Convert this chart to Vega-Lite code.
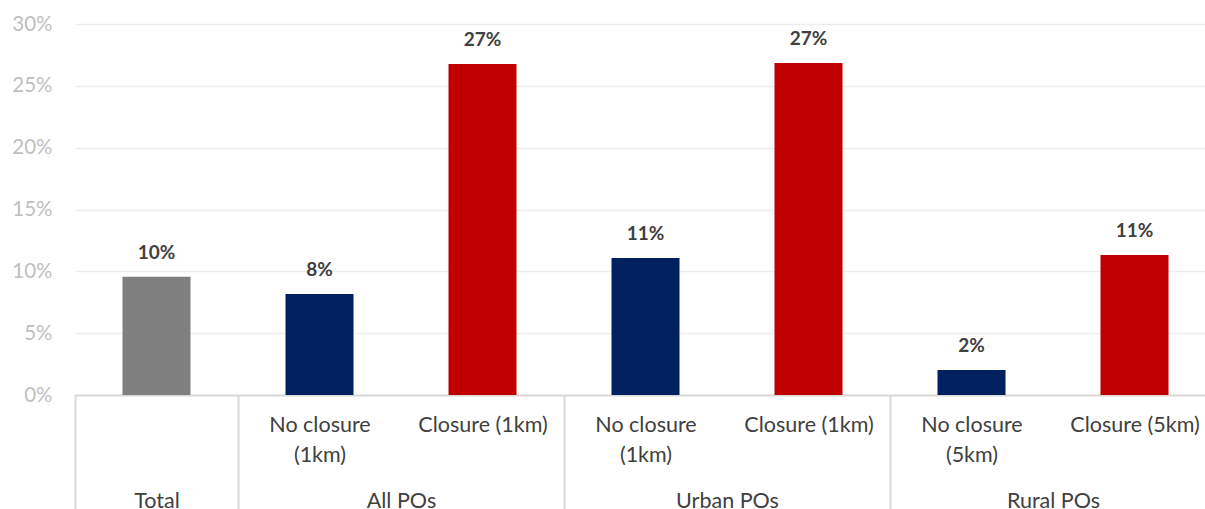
{
  "$schema": "https://vega.github.io/schema/vega-lite/v6.json",
  "width": 1130,
  "height": 371,
  "autosize": "none",
  "padding": {"left": 75, "top": 24, "right": 0, "bottom": 114},
  "background": "#ffffff",
  "config": {
    "view": {"stroke": null},
    "font": "Lato",
    "axis": {"labelFont": "Lato", "titleFont": "Lato"}
  },
  "data": {
    "values": [
      {"idx": 1, "group": "Total", "sub": "", "series": "Total", "value": 0.0957},
      {"idx": 2, "group": "All POs", "sub": "No closure (1km)", "series": "No closure", "value": 0.0817},
      {"idx": 3, "group": "All POs", "sub": "Closure (1km)", "series": "Closure", "value": 0.2677},
      {"idx": 4, "group": "Urban POs", "sub": "No closure (1km)", "series": "No closure", "value": 0.1108},
      {"idx": 5, "group": "Urban POs", "sub": "Closure (1km)", "series": "Closure", "value": 0.2685},
      {"idx": 6, "group": "Rural POs", "sub": "No closure (5km)", "series": "No closure", "value": 0.0202},
      {"idx": 7, "group": "Rural POs", "sub": "Closure (5km)", "series": "Closure", "value": 0.1132}
    ]
  },
  "layer": [
    {
      "mark": {"type": "bar", "width": 68},
      "encoding": {
        "x": {
          "field": "idx", "type": "quantitative",
          "scale": {"domain": [0.5, 7.4325], "nice": false, "zero": false, "padding": 0},
          "axis": {
            "orient": "bottom",
            "title": null,
            "values": [1, 2, 3, 4, 5, 6, 7],
            "labelExpr": "datum.value==1?'':(datum.value==2||datum.value==4)?['No closure','(1km)']:datum.value==6?['No closure','(5km)']:datum.value==7?'Closure (5km)':'Closure (1km)'",
            "ticks": false,
            "grid": false,
            "domain": true,
            "domainColor": "#d9d9d9",
            "domainWidth": 2,
            "labelFontSize": 21.5,
            "labelColor": "#404040",
            "labelBaseline": "top",
            "labelLineHeight": 30,
            "labelPadding": 19,
            "labelFlush": false,
            "labelOverlap": false
          }
        },
        "y": {
          "field": "value", "type": "quantitative",
          "scale": {"domain": [0, 0.3], "nice": false},
          "axis": {
            "title": null,
            "values": [0, 0.05, 0.1, 0.15, 0.2, 0.25, 0.3],
            "format": ".0%",
            "domain": false,
            "ticks": false,
            "grid": true,
            "gridColor": "#ededed",
            "gridWidth": 1.5,
            "labelFontSize": 20.5,
            "labelColor": "#bfbfbf",
            "labelPadding": 23
          }
        },
        "color": {
          "field": "series", "type": "nominal",
          "scale": {"domain": ["Total", "No closure", "Closure"], "range": ["#7f7f7f", "#002060", "#c00000"]},
          "legend": null
        }
      }
    },
    {
      "mark": {"type": "text", "dy": -18, "baseline": "alphabetic", "fontSize": 19, "fontWeight": "bold", "color": "#404040"},
      "encoding": {
        "x": {
          "field": "idx", "type": "quantitative",
          "axis": {
            "orient": "bottom",
            "title": null,
            "values": [1, 2.5, 4.5, 6.5],
            "labelExpr": "datum.value==1?'Total':datum.value==2.5?'All POs':datum.value==4.5?'Urban POs':'Rural POs'",
            "ticks": false,
            "grid": false,
            "domain": false,
            "labelFontSize": 21.5,
            "labelColor": "#404040",
            "labelBaseline": "top",
            "labelPadding": 95,
            "labelFlush": false,
            "labelOverlap": false
          }
        },
        "y": {"field": "value", "type": "quantitative"},
        "text": {"field": "value", "type": "quantitative", "format": ".0%"}
      }
    },
    {
      "mark": {"type": "tick", "opacity": 0},
      "encoding": {
        "x": {
          "field": "idx", "type": "quantitative",
          "axis": {
            "orient": "bottom",
            "title": null,
            "values": [0.5, 1.5, 3.5, 5.5],
            "labels": false,
            "ticks": true,
            "tickSize": 116,
            "tickColor": "#d9d9d9",
            "tickWidth": 2,
            "grid": false,
            "domain": false
          }
        },
        "y": {"field": "value", "type": "quantitative"}
      }
    }
  ],
  "resolve": {"axis": {"x": "independent"}}
}
